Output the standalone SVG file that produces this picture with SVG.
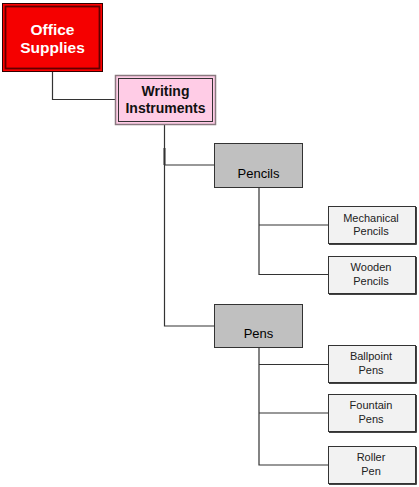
<svg xmlns="http://www.w3.org/2000/svg" width="419" height="487" viewBox="0 0 419 487">
<style>
.bg{fill:#ffffff}
.conn path{fill:none;stroke:#333333;stroke-width:1.2}
.t{font-family:"Liberation Sans",Arial,sans-serif;text-anchor:middle}
.bold{font-weight:bold;font-size:14px}
.mid{font-size:13px;fill:#000}
.leaf rect{fill:#f2f2f2;stroke:#333333;stroke-width:1}
.leaf .sh{fill:none;stroke:#444;stroke-width:1}
.small{font-size:11px;fill:#222}
</style>
<rect class="bg" x="0" y="0" width="419" height="487"/>
<g class="conn">
<path d="M52.5,71 V99.5 H115"/>
<path d="M164.5,125 V326 H214"/>
<path d="M164.5,165 H214"/>
<path d="M164.5,148 V165" style="stroke-width:2"/>
<path d="M259,187 V274.5 H328"/>
<path d="M259,225 H328"/>
<path d="M259,348 V465 H328"/>
<path d="M259,364.5 H328"/>
<path d="M259,413 H328"/>
</g>
<g id="office-supplies">
<rect x="2.5" y="3.5" width="100" height="68" fill="#ff0000" stroke="#300000" stroke-width="1"/>
<rect x="5.5" y="6.5" width="94" height="62" fill="#f50000" stroke="#600000" stroke-width="1.8"/>
<text class="t bold" fill="#ffffff" style="font-size:15.5px" x="52.5" y="34.5">Office</text>
<text class="t bold" fill="#ffffff" style="font-size:15.5px" x="52.5" y="53">Supplies</text>
</g>
<g id="writing-instruments">
<rect x="115.5" y="75.5" width="100" height="49" fill="#ffcce6" stroke="#8a7a80" stroke-width="1.5"/>
<rect x="118.5" y="78.5" width="94" height="43" fill="#ffcce6" stroke="#333333" stroke-width="1"/>
<text class="t bold" fill="#111" x="165.5" y="96">Writing</text>
<text class="t bold" fill="#111" x="165.5" y="113">Instruments</text>
</g>
<g id="pencils">
<rect x="214.5" y="143.5" width="88" height="44" fill="#c0c0c0" stroke="#333333" stroke-width="1"/>
<text class="t mid" x="258.5" y="177.5">Pencils</text>
</g>
<g id="mechanical-pencils" class="leaf">
<rect x="328.5" y="206.5" width="87" height="37"/>
<path class="sh" d="M329,244.5 H416.5 V207"/>
<text class="t small" x="371" y="221.5">Mechanical</text>
<text class="t small" x="371" y="234.5">Pencils</text>
</g>
<g id="wooden-pencils" class="leaf">
<rect x="328.5" y="256.5" width="87" height="37"/>
<path class="sh" d="M329,294.5 H416.5 V257"/>
<text class="t small" x="371" y="271">Wooden</text>
<text class="t small" x="371" y="284.5">Pencils</text>
</g>
<g id="pens">
<rect x="214.5" y="304.5" width="88" height="43" fill="#c0c0c0" stroke="#333333" stroke-width="1"/>
<text class="t mid" x="258.5" y="337.5">Pens</text>
</g>
<g id="ballpoint-pens" class="leaf">
<rect x="328.5" y="345.5" width="87" height="37"/>
<path class="sh" d="M329,383.5 H416.5 V346"/>
<text class="t small" x="371" y="360">Ballpoint</text>
<text class="t small" x="371" y="373.5">Pens</text>
</g>
<g id="fountain-pens" class="leaf">
<rect x="328.5" y="394.5" width="87" height="37"/>
<path class="sh" d="M329,432.5 H416.5 V395"/>
<text class="t small" x="371" y="408.5">Fountain</text>
<text class="t small" x="371" y="422.5">Pens</text>
</g>
<g id="roller-pen" class="leaf">
<rect x="328.5" y="446.5" width="87" height="37"/>
<path class="sh" d="M329,484.5 H416.5 V447"/>
<text class="t small" x="371" y="461">Roller</text>
<text class="t small" x="371" y="474.5">Pen</text>
</g>
</svg>
